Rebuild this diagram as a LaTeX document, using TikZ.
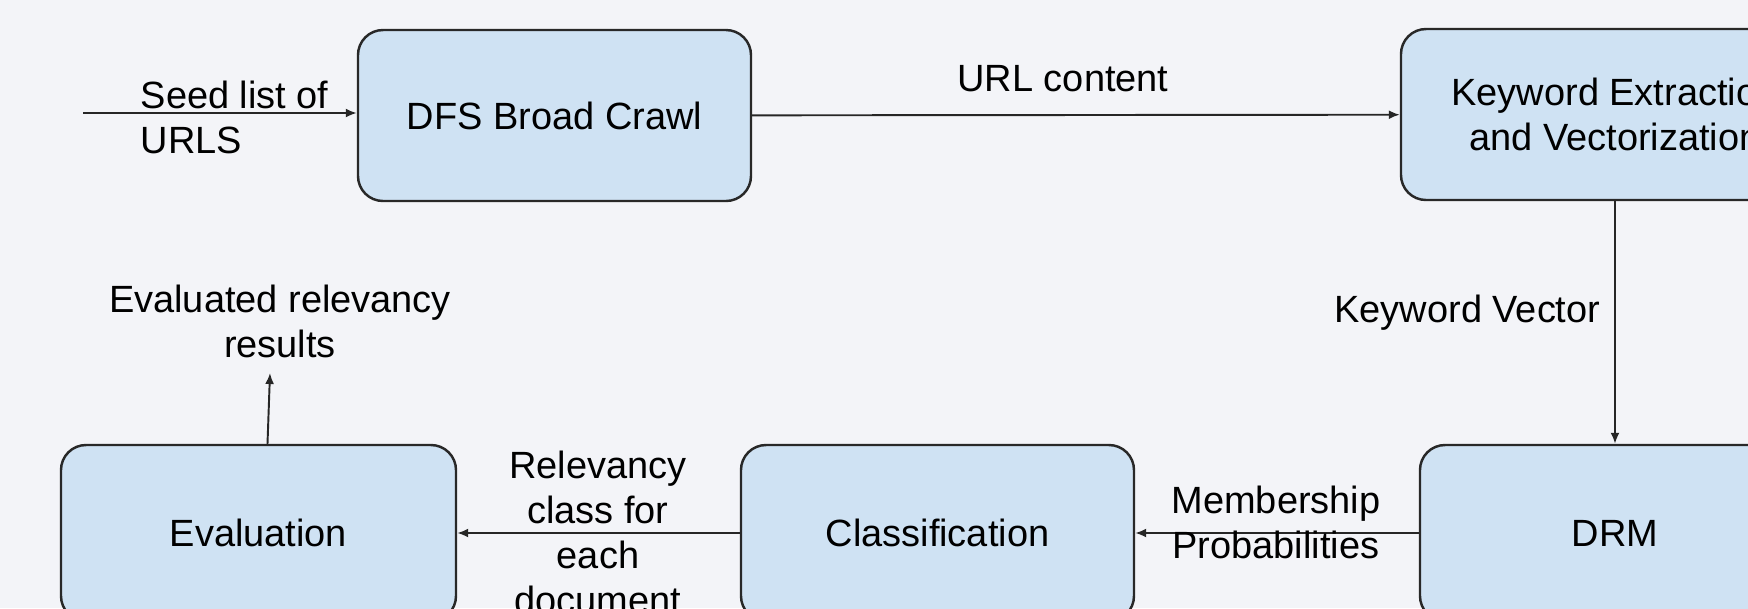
\documentclass[tikz,border=0pt]{standalone}
\usepackage{fontspec}
\setmainfont{Liberation Sans}
\usetikzlibrary{arrows.meta,positioning,calc}
\begin{document}
\begin{tikzpicture}[x=1cm,y=1cm,>={Latex[length=1.1mm,width=0.9mm]},
  box/.style={draw=boxline,fill=boxblue,line width=.7pt,rounded corners=.25cm,align=center,inner sep=0pt,font=\fontsize{10.8}{12.8}\selectfont,minimum height=1.71cm},
  flow/.style={->,line width=.55pt,draw=black!85},
  note/.style={font=\fontsize{10.8}{12.8}\selectfont,align=center,inner sep=0pt}]
\definecolor{boxblue}{RGB}{207,226,243}
\definecolor{boxline}{RGB}{40,40,40}
\definecolor{pagebg}{RGB}{243,244,248}
\useasboundingbox (0,0) rectangle (17.48,-6.08);
\clip (0,0) rectangle (17.48,-6.08);
\fill[pagebg] (0,0) rectangle (17.48,-6.08);
% top row
\node[box,minimum width=3.93cm] (crawl) at (5.545,-1.155) {DFS Broad Crawl};
\node[box,minimum width=4.28cm] (kwe) at (16.15,-1.145) {Keyword Extraction\\and Vectorization};
% bottom row
\node[box,minimum width=3.90cm,minimum height=1.76cm] (drm) at (16.15,-5.33) {DRM};
\node[box,minimum width=3.93cm,minimum height=1.76cm] (cls) at (9.375,-5.33) {Classification};
\node[box,minimum width=3.95cm,minimum height=1.76cm] (eval) at (2.585,-5.33) {Evaluation};
% connectors
\coordinate (seed) at (0.83,-1.13);
\draw[flow] (seed) -- (seed -| crawl.west);
\node[note,align=left,anchor=west] (seedl) at (1.40,-1.175) {Seed list of\\URLS};
\draw[flow] (crawl) -- (kwe);
\node[note] (urlc) at (10.63,-0.785) {URL content};
\draw[flow] (kwe) -- (drm);
\node[note,anchor=east] (kwv) at (16.01,-3.13) {Keyword Vector};
\draw[flow] (drm) -- (cls);
\node[note] (memb) at (12.76,-5.22) {Membership\\Probabilities};
\draw[flow] (cls) -- (eval);
\node[note] (relc) at (5.98,-5.32) {Relevancy\\class for\\each\\document};
\coordinate (evout) at (2.70,-3.73);
\draw[flow] ([xshift=.09cm]eval.north) -- (evout);
\node[note] (evres) at (2.80,-3.21) {Evaluated relevancy\\results};
\end{tikzpicture}
\end{document}
